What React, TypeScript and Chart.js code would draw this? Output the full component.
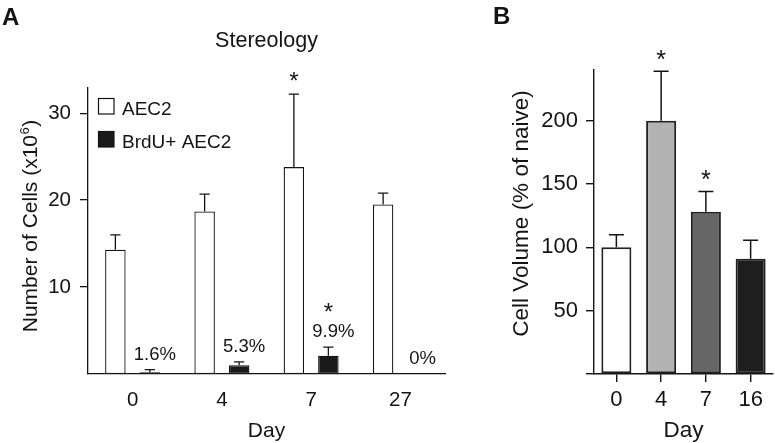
import React, { useEffect, useRef } from 'react';
import { Chart, registerables } from 'chart.js';

Chart.register(...registerables);

const FONT = '"Liberation Sans", Arial, Helvetica, sans-serif';
const INK = '#141414';

// ---- Panel A: Stereology ----
const daysA = ['0', '4', '7', '27'];
const aec2 = [14.3, 18.7, 23.8, 19.5];
const aec2Err = [1.7, 2.0, 8.4, 1.3];
const brdu = [0.2, 1.0, 2.1, 0];
const brduErr = [0.3, 0.4, 1.0, 0];
const brduPct = ['1.6%', '5.3%', '9.9%', '0%'];
const aec2Sig = [false, false, true, false];
const brduSig = [false, false, true, false];
const ticksA = [10, 20, 30];

// ---- Panel B: Cell volume ----
const daysB = ['0', '4', '7', '16'];
const volume = [100, 200, 128, 91];
const volumeErr = [10, 39, 16, 14.5];
const volumeSig = [false, true, true, false];
const volumeColors = ['#ffffff', '#b3b3b3', '#666666', '#1e1e1e'];
const ticksB = [0, 50, 100, 150, 200];

function drawErrorBars(chart: any, errs: number[][], lw: number) {
  const ctx = chart.ctx;
  const y = chart.scales.y;
  ctx.save();
  ctx.strokeStyle = INK;
  ctx.lineWidth = lw;
  chart.data.datasets.forEach((ds: any, i: number) => {
    const meta = chart.getDatasetMeta(i);
    meta.data.forEach((bar: any, j: number) => {
      const e = errs[i][j];
      if (!e) return;
      const v = ds.data[j];
      const top = y.getPixelForValue(v + e);
      const half = bar.width / 4;
      ctx.beginPath();
      ctx.moveTo(bar.x, bar.y);
      ctx.lineTo(bar.x, top);
      ctx.moveTo(bar.x - half, top);
      ctx.lineTo(bar.x + half, top);
      ctx.stroke();
    });
  });
  ctx.restore();
}

function text(ctx: any, s: string, x: number, y: number, size: number, align = 'center', bold = false) {
  ctx.font = `${bold ? 'bold ' : ''}${size}px ${FONT}`;
  ctx.textAlign = align;
  ctx.textBaseline = 'alphabetic';
  ctx.fillStyle = INK;
  ctx.fillText(s, x, y);
}

const configA = (): any => ({
  type: 'bar',
  data: {
    labels: daysA,
    datasets: [
      {
        label: 'AEC2', data: aec2, backgroundColor: '#ffffff', borderColor: INK,
        borderWidth: 1.3, borderSkipped: false, categoryPercentage: 0.773, barPercentage: 0.594,
      },
      {
        label: 'BrdU+ AEC2', data: brdu, backgroundColor: '#1a1a1a', borderColor: INK,
        borderWidth: 1.3, borderSkipped: false, categoryPercentage: 0.773, barPercentage: 0.594,
      },
    ],
  },
  options: {
    responsive: false,
    animation: false,
    devicePixelRatio: 1,
    layout: { padding: { top: 88, right: 15, bottom: 0, left: 0 } },
    plugins: { legend: { display: false }, tooltip: { enabled: false } },
    scales: {
      x: {
        grid: { display: false, drawTicks: false },
        border: { display: true, color: INK, width: 1.3 },
        ticks: { padding: 14, color: INK, font: { family: FONT, size: 20.5 } },
        afterFit: (s: any) => { s.height = 69; },
      },
      y: {
        min: 0, max: 32.9,
        grid: { drawOnChartArea: false, drawTicks: true, tickLength: 8, color: INK, lineWidth: 1.3 },
        border: { display: true, color: INK, width: 1.3 },
        ticks: { padding: 9, color: INK, font: { family: FONT, size: 20.5 } },
        afterBuildTicks: (s: any) => { s.ticks = ticksA.map((v) => ({ value: v })); },
        afterFit: (s: any) => { s.width = 88; },
      },
    },
  },
  plugins: [
    {
      id: 'panelA',
      afterDatasetsDraw(chart: any) {
        drawErrorBars(chart, [aec2Err, brduErr], 1.3);
      },
      afterDraw(chart: any) {
        const ctx = chart.ctx;
        const ca = chart.chartArea;
        const y = chart.scales.y;
        const cx = (ca.left + ca.right) / 2;
        ctx.save();
        text(ctx, 'A', 2, 25, 24, 'left', true);
        text(ctx, 'Stereology', cx, 47, 21.5);
        text(ctx, 'Day', cx, 437, 21);
        // y title with superscript
        ctx.save();
        ctx.translate(36.5, 226);
        ctx.rotate(-Math.PI / 2);
        ctx.font = `21px ${FONT}`;
        const main = 'Number of Cells (x10';
        const wMain = ctx.measureText(main).width;
        ctx.font = `13px ${FONT}`;
        const wSup = ctx.measureText('6').width;
        ctx.font = `21px ${FONT}`;
        const wEnd = ctx.measureText(')').width;
        let x0 = -(wMain + wSup + wEnd + 1) / 2;
        text(ctx, main, x0, 0, 21, 'left');
        x0 += wMain;
        text(ctx, '6', x0 + 0.5, -8, 13, 'left');
        x0 += wSup + 1;
        text(ctx, ')', x0, 0, 21, 'left');
        ctx.restore();
        // legend
        const ds = chart.data.datasets;
        const legendY = [98, 131];
        ds.forEach((d: any, i: number) => {
          ctx.fillStyle = d.backgroundColor;
          ctx.fillRect(98, legendY[i], 16, 16);
          ctx.strokeStyle = INK;
          ctx.lineWidth = 1.2;
          ctx.strokeRect(98.5, legendY[i] + 0.5, 15.5, 15.5);
          text(ctx, d.label, 122, legendY[i] + 16.5, 19, 'left');
        });
        // annotations
        const m0 = chart.getDatasetMeta(0);
        const m1 = chart.getDatasetMeta(1);
        m0.data.forEach((bar: any, j: number) => {
          if (aec2Sig[j]) {
            const cap = y.getPixelForValue(aec2[j] + aec2Err[j]);
            text(ctx, '*', bar.x, cap - 5.1, 24);
          }
        });
        m1.data.forEach((bar: any, j: number) => {
          const cap = y.getPixelForValue(brdu[j] + brduErr[j]);
          const base = cap - 10;
          text(ctx, brduPct[j], bar.x + 5, base, 18.5);
          if (brduSig[j]) text(ctx, '*', bar.x, base - 17.1, 24);
        });
        ctx.restore();
      },
    },
  ],
});

const configB = (): any => ({
  type: 'bar',
  data: {
    labels: daysB,
    datasets: [
      {
        label: 'Cell Volume', data: volume, backgroundColor: volumeColors, borderColor: '#222222',
        borderWidth: 2, borderSkipped: false, categoryPercentage: 1, barPercentage: 0.671,
      },
    ],
  },
  options: {
    responsive: false,
    animation: false,
    devicePixelRatio: 1,
    layout: { padding: { top: 70, right: 2, bottom: 0, left: 0 } },
    plugins: { legend: { display: false }, tooltip: { enabled: false } },
    scales: {
      x: {
        grid: { display: true, drawOnChartArea: false, drawTicks: true, tickLength: 8, offset: false, color: INK, lineWidth: 1.4 },
        border: { display: true, color: INK, width: 1.4 },
        ticks: { padding: 5, color: INK, font: { family: FONT, size: 22 } },
        afterFit: (s: any) => { s.height = 69; },
      },
      y: {
        min: 0, max: 240,
        grid: { drawOnChartArea: false, drawTicks: true, tickLength: 8, color: INK, lineWidth: 1.4 },
        border: { display: true, color: INK, width: 1.4 },
        ticks: {
          padding: 8, color: INK, font: { family: FONT, size: 22 },
          callback: (v: any) => (v === 0 ? '' : String(v)),
        },
        afterBuildTicks: (s: any) => { s.ticks = ticksB.map((v) => ({ value: v })); },
        afterFit: (s: any) => { s.width = 134; },
      },
    },
  },
  plugins: [
    {
      id: 'panelB',
      afterDatasetsDraw(chart: any) {
        drawErrorBars(chart, [volumeErr], 1.5);
      },
      afterDraw(chart: any) {
        const ctx = chart.ctx;
        const ca = chart.chartArea;
        const y = chart.scales.y;
        const cx = (ca.left + ca.right) / 2;
        ctx.save();
        text(ctx, 'B', 33, 24, 24, 'left', true);
        text(ctx, 'Day', cx, 437, 22.5);
        ctx.save();
        ctx.translate(68, 213.5);
        ctx.rotate(-Math.PI / 2);
        text(ctx, 'Cell Volume (% of naive)', 0, 0, 22.5);
        ctx.restore();
        const meta = chart.getDatasetMeta(0);
        meta.data.forEach((bar: any, j: number) => {
          if (volumeSig[j]) {
            const cap = y.getPixelForValue(volume[j] + volumeErr[j]);
            text(ctx, '*', bar.x, cap - 3.5, 25);
          }
        });
        ctx.restore();
      },
    },
  ],
});

function ChartCanvas({ left, width, makeConfig }: { left: number; width: number; makeConfig: () => any }) {
  const ref = useRef<HTMLCanvasElement>(null);
  useEffect(() => {
    const chart = new Chart(ref.current as HTMLCanvasElement, makeConfig());
    return () => chart.destroy();
  }, []);
  return (
    <canvas
      ref={ref}
      width={width}
      height={443}
      style={{ position: 'absolute', left, top: 0, width, height: 443, display: 'block' }}
    />
  );
}

export default function App() {
  return (
    <div style={{ position: 'absolute', left: 0, top: 0, width: 775, height: 443, background: '#ffffff', overflow: 'hidden' }}>
      <ChartCanvas left={0} width={460} makeConfig={configA} />
      <ChartCanvas left={460} width={315} makeConfig={configB} />
    </div>
  );
}
